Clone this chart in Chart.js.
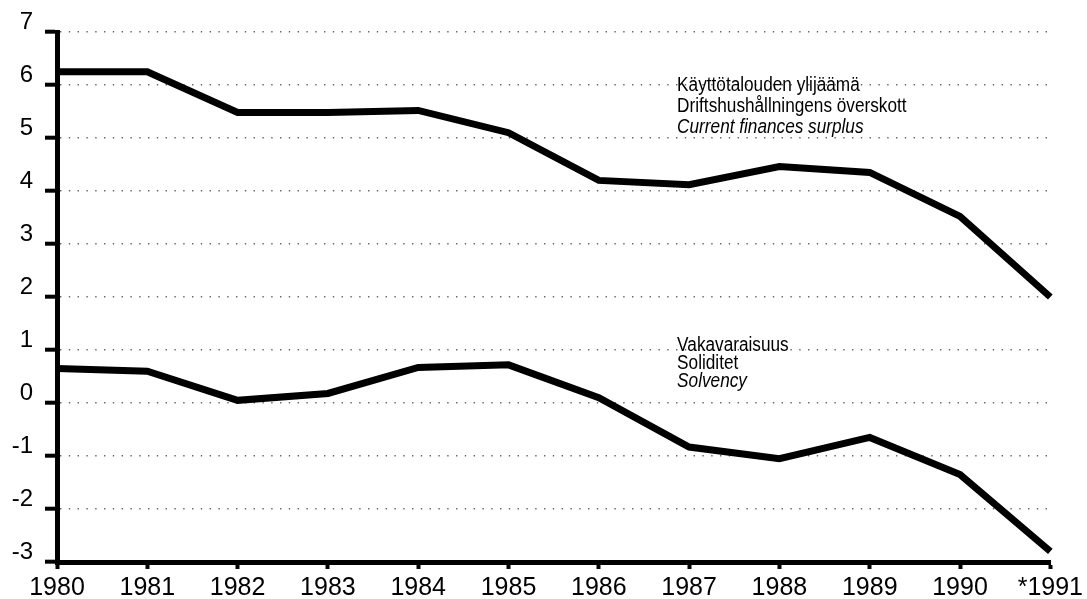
<!DOCTYPE html>
<html>
<head>
<meta charset="utf-8">
<script src="https://cdn.jsdelivr.net/npm/chart.js@4/dist/chart.umd.min.js"></script>
<style>
  html, body { margin: 0; padding: 0; background: #fff; }
  #wrap { width: 1087px; height: 599px; }
</style>
</head>
<body>
<div id="wrap"><canvas id="chart"></canvas></div>
<script>
// Data
const years = ["1980", "1981", "1982", "1983", "1984", "1985", "1986", "1987", "1988", "1989", "1990", "*1991"];
const surplus = [6.25, 6.25, 5.48, 5.48, 5.52, 5.1, 4.2, 4.12, 4.46, 4.35, 3.52, 2.0];
const solvency = [0.65, 0.6, 0.05, 0.18, 0.67, 0.72, 0.1, -0.83, -1.05, -0.65, -1.35, -2.8];
const yTicks = [-3, -2, -1, 0, 1, 2, 3, 4, 5, 6, 7];

const surplusLabel = ["Käyttötalouden ylijäämä", "Driftshushållningens överskott", "Current finances surplus"];
const solvencyLabel = ["Vakavaraisuus", "Soliditet", "Solvency"];

const SANS = "'Liberation Sans', Arial, sans-serif";

// Three-line captions next to each line (condensed by squeezing horizontally)
const captions = {
  id: "captions",
  afterDatasetsDraw(chart) {
    const { ctx, scales: { x, y } } = chart;
    const left = x.getPixelForValue(7) - 12;
    const squeeze = 0.86;
    const blocks = [
      { lines: surplusLabel, y0: y.getPixelForValue(6.0), step: 21 },
      { lines: solvencyLabel, y0: y.getPixelForValue(1.08), step: 18 }
    ];
    ctx.save();
    ctx.fillStyle = "#000";
    ctx.textBaseline = "middle";
    ctx.textAlign = "left";
    ctx.translate(left, 0);
    ctx.scale(squeeze, 1);
    blocks.forEach(b => {
      b.lines.forEach((t, i) => {
        ctx.font = (i === 2 ? "italic " : "") + "20px " + SANS;
        ctx.fillText(t, 0, b.y0 + i * b.step);
      });
    });
    ctx.restore();
  }
};

new Chart(document.getElementById("chart"), {
  type: "line",
  data: {
    labels: years,
    datasets: [
      { label: "surplus", data: surplus },
      { label: "solvency", data: solvency }
    ]
  },
  options: {
    responsive: true,
    maintainAspectRatio: false,
    animation: false,
    layout: { padding: { top: 32, right: 33, left: 0, bottom: 0 } },
    elements: {
      line: { borderColor: "#000", borderWidth: 7, tension: 0, borderJoinStyle: "miter" },
      point: { radius: 0, hoverRadius: 0 }
    },
    plugins: { legend: { display: false }, tooltip: { enabled: false } },
    scales: {
      x: {
        offset: false,
        afterFit(s) { s.height = 37; },
        border: { color: "#000", width: 5 },
        grid: { drawOnChartArea: false, drawTicks: true, tickLength: 7, tickWidth: 4, tickColor: "#000" },
        ticks: { color: "#000", padding: 4, maxRotation: 0, autoSkip: false, font: { family: SANS, size: 25 } }
      },
      y: {
        min: -3, max: 7,
        afterFit(s) { s.width = 57; },
        afterBuildTicks(s) { s.ticks = yTicks.map(v => ({ value: v })); },
        border: { color: "#000", width: 5, dash: [1.4, 7.4] },
        grid: {
          color: "#666", lineWidth: 1.4, tickColor: "#000", tickWidth: 4, tickLength: 12,
          drawTicks: true
        },
        ticks: {
          color: "#000", padding: 12, labelOffset: -10,
          font: { family: SANS, size: 24 }
        }
      }
    }
  },
  plugins: [captions]
});
</script>
</body>
</html>
